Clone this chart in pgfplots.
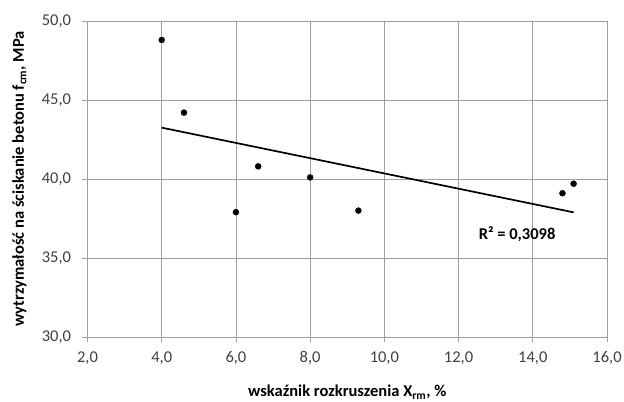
\documentclass[border=0pt]{standalone}
\usepackage{pgfplots}
\pgfplotsset{compat=1.18}
\usepackage{fontspec}
\setmainfont{Carlito}
\definecolor{gridgray}{HTML}{A0A0A0}
\definecolor{ticktext}{HTML}{404040}
\begin{document}
\begin{tikzpicture}
\begin{axis}[
  scale only axis,
  width=519.5bp, height=316bp,
  xmin=2, xmax=16, ymin=30, ymax=50,
  xtick={2,4,...,16}, ytick={30,35,...,50},
  grid=major,
  grid style={gridgray, line width=0.8bp},
  axis line style={gridgray, line width=0.8bp},
  tick style={gridgray, line width=0.8bp},
  tick align=outside,
  major tick length=5bp,
  xtick pos=bottom, ytick pos=left,
  /pgf/number format/.cd, fixed, fixed zerofill, precision=1, use comma, assume math mode=true,
  /pgfplots/.cd,
  tick label style={font=\fontsize{16.5bp}{18bp}\selectfont, text=ticktext},
  xticklabel style={yshift=-6bp},
  yticklabel style={xshift=-8bp},
  label style={font=\fontsize{16.5bp}{18bp}\selectfont\bfseries},
  xlabel={wskaźnik rozkruszenia X\textsubscript{rm}, \%},
  ylabel={wytrzymałość na ściskanie betonu f\textsubscript{cm}, MPa},
  xlabel style={at={(axis description cs:0.5,-0.175)}, anchor=center},
  ylabel style={at={(axis description cs:-0.131,0.5)}, anchor=center},
]
\addplot[only marks, mark=*, mark size=3bp, black] coordinates {
  (4.0,48.8) (4.6,44.2) (6.0,37.9) (6.6,40.8) (8.0,40.1) (9.3,38.0) (14.8,39.1) (15.1,39.7)
};
\addplot[black, line width=1.7bp] coordinates {(4.0,43.25) (15.1,37.89)};
\node[anchor=west, font=\fontsize{16.5bp}{18bp}\selectfont\bfseries] at (axis cs:12.45,36.5) {R² = 0,3098};
\end{axis}
\pgfresetboundingbox
\useasboundingbox (-87.5bp,-65bp) rectangle (536.5bp,337bp);
\end{tikzpicture}
\end{document}
